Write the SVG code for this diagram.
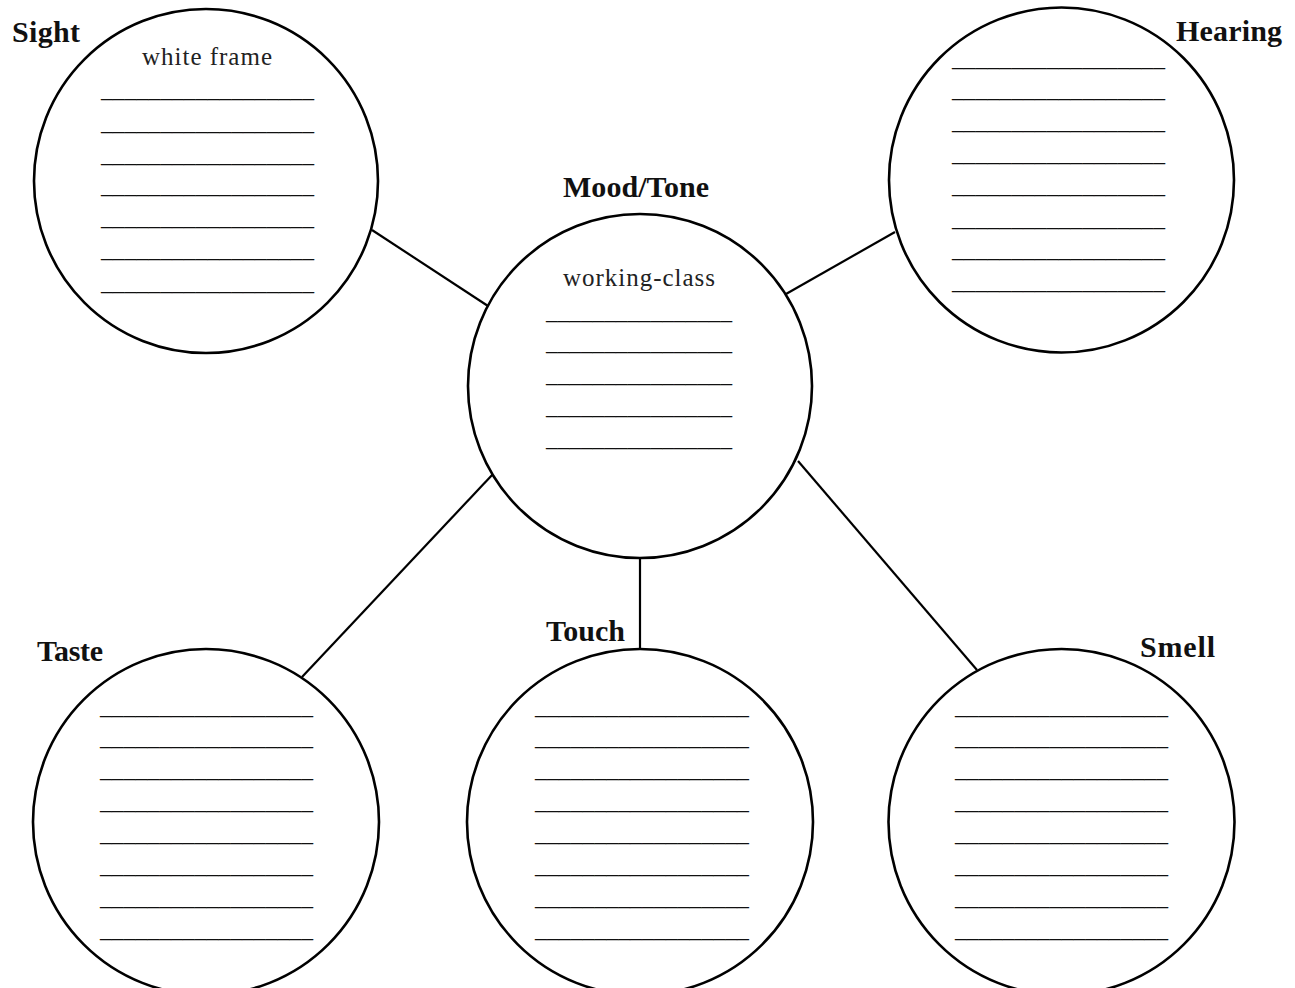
<svg xmlns="http://www.w3.org/2000/svg" width="1295" height="988" viewBox="0 0 1295 988">
<style>
.c{fill:#fff;stroke:#000;stroke-width:2.6}
.k{stroke:#000;stroke-width:2.2;fill:none}
.lbl{font-family:"Liberation Serif",serif;font-weight:bold;font-size:30px;fill:#111}
.t{font-family:"Liberation Serif",serif;font-size:25px;fill:#222;text-anchor:middle}
.u{font-family:"Liberation Serif",serif;font-size:24px;fill:#111}
</style>
<rect width="1295" height="988" fill="#fff"/>
<g id="connectors">
<line class="k" x1="372" y1="230" x2="488" y2="306"/>
<line class="k" x1="895" y1="232" x2="786" y2="294"/>
<line class="k" x1="493" y1="474" x2="302" y2="677"/>
<line class="k" x1="640" y1="558" x2="640" y2="649"/>
<line class="k" x1="798" y1="461" x2="977" y2="670"/>
</g>
<g id="sight">
<circle class="c" cx="206" cy="181" r="172"/>
<text class="lbl" x="12" y="42" textLength="68">Sight</text>
<text class="t" x="207" y="65" textLength="130">white frame</text>
<text class="u" x="101" y="96.5" textLength="213" lengthAdjust="spacingAndGlyphs">__________________</text>
<text class="u" x="101" y="129.5" textLength="213" lengthAdjust="spacingAndGlyphs">__________________</text>
<text class="u" x="101" y="161.5" textLength="213" lengthAdjust="spacingAndGlyphs">__________________</text>
<text class="u" x="101" y="192.5" textLength="213" lengthAdjust="spacingAndGlyphs">__________________</text>
<text class="u" x="101" y="224.5" textLength="213" lengthAdjust="spacingAndGlyphs">__________________</text>
<text class="u" x="101" y="256.5" textLength="213" lengthAdjust="spacingAndGlyphs">__________________</text>
<text class="u" x="101" y="289.5" textLength="213" lengthAdjust="spacingAndGlyphs">__________________</text>
</g>
<g id="hearing">
<circle class="c" cx="1061.5" cy="180" r="172.5"/>
<text class="lbl" x="1176" y="41" textLength="106">Hearing</text>
<text class="u" x="952" y="65.5" textLength="213" lengthAdjust="spacingAndGlyphs">__________________</text>
<text class="u" x="952" y="96.5" textLength="213" lengthAdjust="spacingAndGlyphs">__________________</text>
<text class="u" x="952" y="128.5" textLength="213" lengthAdjust="spacingAndGlyphs">__________________</text>
<text class="u" x="952" y="160.5" textLength="213" lengthAdjust="spacingAndGlyphs">__________________</text>
<text class="u" x="952" y="192.5" textLength="213" lengthAdjust="spacingAndGlyphs">__________________</text>
<text class="u" x="952" y="225.5" textLength="213" lengthAdjust="spacingAndGlyphs">__________________</text>
<text class="u" x="952" y="256.5" textLength="213" lengthAdjust="spacingAndGlyphs">__________________</text>
<text class="u" x="952" y="288.5" textLength="213" lengthAdjust="spacingAndGlyphs">__________________</text>
</g>
<g id="mood">
<circle class="c" cx="640" cy="386" r="172"/>
<text class="lbl" x="563" y="197" textLength="146">Mood/Tone</text>
<text class="t" x="639" y="286" textLength="152">working-class</text>
<text class="u" x="546" y="318.5" textLength="186" lengthAdjust="spacingAndGlyphs">________________</text>
<text class="u" x="546" y="349.5" textLength="186" lengthAdjust="spacingAndGlyphs">________________</text>
<text class="u" x="546" y="381.5" textLength="186" lengthAdjust="spacingAndGlyphs">________________</text>
<text class="u" x="546" y="413.5" textLength="186" lengthAdjust="spacingAndGlyphs">________________</text>
<text class="u" x="546" y="445.5" textLength="186" lengthAdjust="spacingAndGlyphs">________________</text>
</g>
<g id="taste">
<circle class="c" cx="206" cy="822" r="173"/>
<text class="lbl" x="37" y="661" textLength="66">Taste</text>
<text class="u" x="100" y="713.5" textLength="213" lengthAdjust="spacingAndGlyphs">__________________</text>
<text class="u" x="100" y="744.5" textLength="213" lengthAdjust="spacingAndGlyphs">__________________</text>
<text class="u" x="100" y="776.5" textLength="213" lengthAdjust="spacingAndGlyphs">__________________</text>
<text class="u" x="100" y="808.5" textLength="213" lengthAdjust="spacingAndGlyphs">__________________</text>
<text class="u" x="100" y="840.5" textLength="213" lengthAdjust="spacingAndGlyphs">__________________</text>
<text class="u" x="100" y="872.5" textLength="213" lengthAdjust="spacingAndGlyphs">__________________</text>
<text class="u" x="100" y="904.5" textLength="213" lengthAdjust="spacingAndGlyphs">__________________</text>
<text class="u" x="100" y="936.5" textLength="213" lengthAdjust="spacingAndGlyphs">__________________</text>
</g>
<g id="touch">
<circle class="c" cx="640" cy="822" r="173"/>
<text class="lbl" x="546" y="641" textLength="79">Touch</text>
<text class="u" x="535" y="713.5" textLength="214" lengthAdjust="spacingAndGlyphs">__________________</text>
<text class="u" x="535" y="744.5" textLength="214" lengthAdjust="spacingAndGlyphs">__________________</text>
<text class="u" x="535" y="776.5" textLength="214" lengthAdjust="spacingAndGlyphs">__________________</text>
<text class="u" x="535" y="808.5" textLength="214" lengthAdjust="spacingAndGlyphs">__________________</text>
<text class="u" x="535" y="840.5" textLength="214" lengthAdjust="spacingAndGlyphs">__________________</text>
<text class="u" x="535" y="872.5" textLength="214" lengthAdjust="spacingAndGlyphs">__________________</text>
<text class="u" x="535" y="904.5" textLength="214" lengthAdjust="spacingAndGlyphs">__________________</text>
<text class="u" x="535" y="936.5" textLength="214" lengthAdjust="spacingAndGlyphs">__________________</text>
</g>
<g id="smell">
<circle class="c" cx="1061.5" cy="822" r="173"/>
<text class="lbl" x="1140" y="657" textLength="75">Smell</text>
<text class="u" x="955" y="713.5" textLength="213" lengthAdjust="spacingAndGlyphs">__________________</text>
<text class="u" x="955" y="744.5" textLength="213" lengthAdjust="spacingAndGlyphs">__________________</text>
<text class="u" x="955" y="776.5" textLength="213" lengthAdjust="spacingAndGlyphs">__________________</text>
<text class="u" x="955" y="808.5" textLength="213" lengthAdjust="spacingAndGlyphs">__________________</text>
<text class="u" x="955" y="840.5" textLength="213" lengthAdjust="spacingAndGlyphs">__________________</text>
<text class="u" x="955" y="872.5" textLength="213" lengthAdjust="spacingAndGlyphs">__________________</text>
<text class="u" x="955" y="904.5" textLength="213" lengthAdjust="spacingAndGlyphs">__________________</text>
<text class="u" x="955" y="936.5" textLength="213" lengthAdjust="spacingAndGlyphs">__________________</text>
</g>
</svg>
